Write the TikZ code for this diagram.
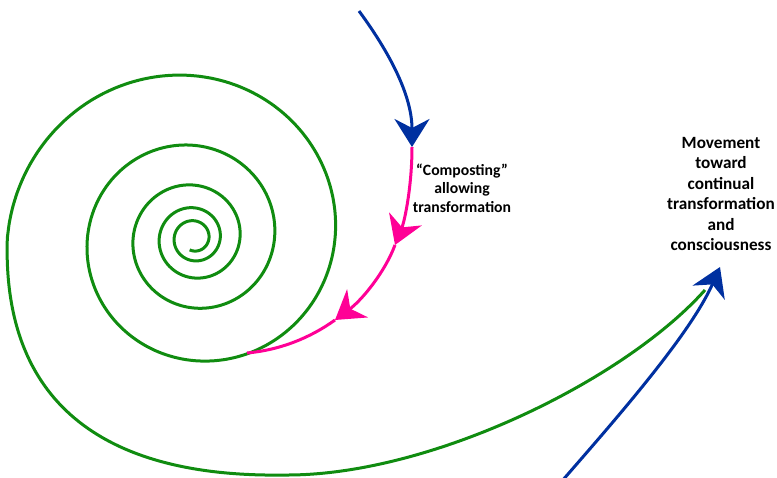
\documentclass[tikz,border=0pt]{standalone}
\usepackage{fontspec}
\setmainfont{Carlito}
\usetikzlibrary{arrows.meta}
\definecolor{spiralgreen}{RGB}{16,140,16}
\definecolor{flowblue}{RGB}{0,48,160}
\definecolor{compostpink}{RGB}{255,0,150}
\begin{document}
\begin{tikzpicture}[x=1pt,y=-1pt,
    >={Stealth[length=28pt,width=35pt,inset=9pt]},
    greenline/.style={spiralgreen,line width=3pt},
    blueline/.style={flowblue,line width=3pt},
    pinkline/.style={compostpink,line width=3pt},
    notetext/.style={align=center,inner sep=0pt}]
      \useasboundingbox (0,0) rectangle (777,478);
      \coordinate (top) at (359,11);
      \coordinate (enter) at (412,147);
      \coordinate (pinkA) at (395,245);
      \coordinate (pinkB) at (335,320);
      \coordinate (merge) at (247,353);
      \coordinate (bottom) at (285,475);
      \coordinate (greenend) at (705,290);
      \coordinate (start) at (562,481);
      \coordinate (goal) at (720,267);
      \draw[greenline,domain=-110:1620,samples=360,smooth,variable=\t]
        plot ({194+15*exp(0.0015545*\t)*cos(\t)},{238-15*exp(0.0015545*\t)*sin(\t)})
        .. controls (2,400) and (100,478) .. (bottom)
        .. controls (430,476) and (625,380) .. (greenend);
      \draw[blueline,->] (start) .. controls (615,420) and (690,335) .. (goal);
      \draw[blueline,->] (top) .. controls (395,60) and (412,100) .. (enter);
      \draw[pinkline,->] (enter) .. controls (412,185) and (405,220) .. (pinkA);
      \draw[pinkline,->] (pinkA) .. controls (385,272) and (362,300) .. (pinkB);
      \draw[pinkline] (pinkB) .. controls (310,338) and (280,350) .. (merge);
\node[notetext,font=\bfseries\fontsize{15.7}{18.3}\selectfont] (compost) at (462,188) {“Composting”\\allowing\\transformation};
\node[notetext,font=\bfseries\fontsize{17.2}{20.4}\selectfont] (movement) at (721,194) {Movement\\toward\\continual\\transformation\\and\\consciousness};
\end{tikzpicture}
\end{document}
